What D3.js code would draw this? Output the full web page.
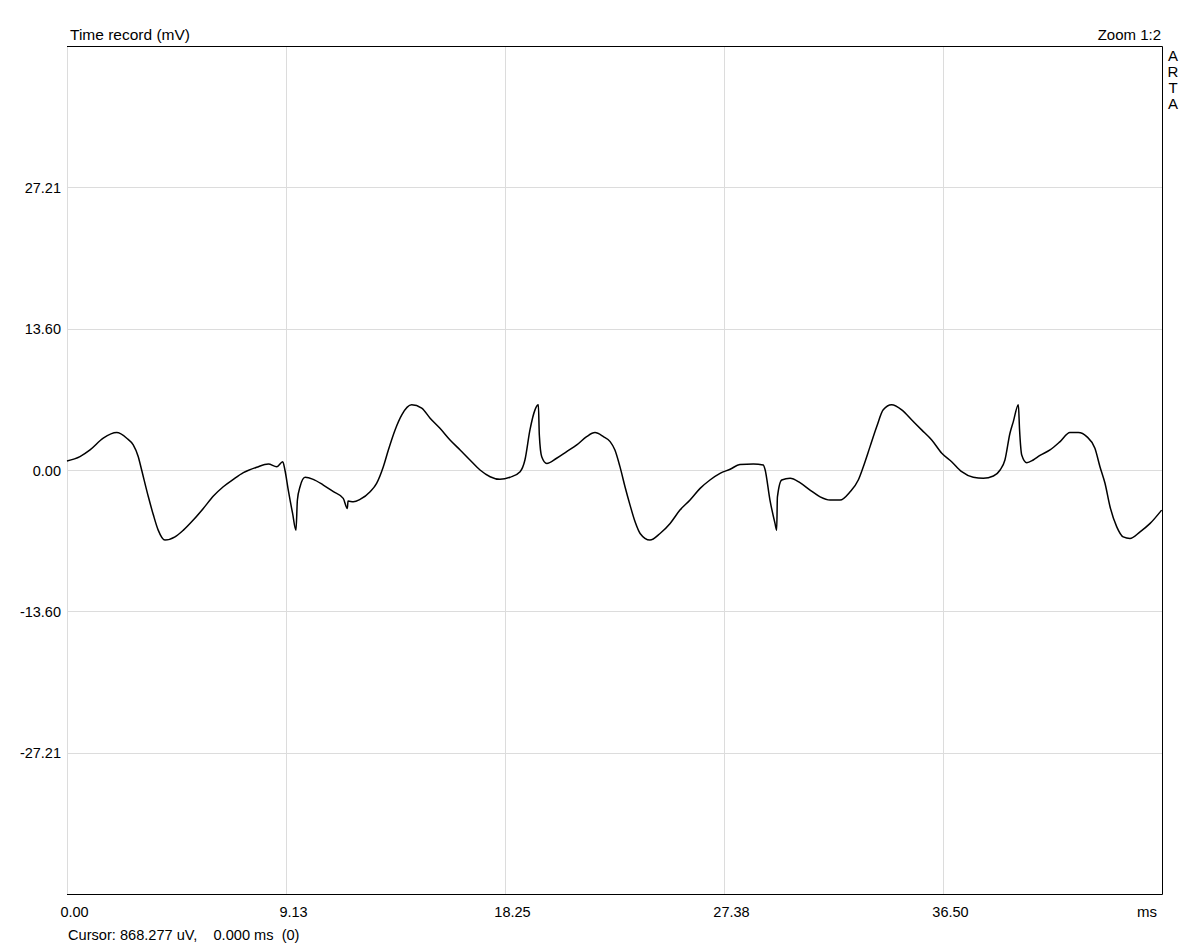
<!DOCTYPE html>
<html><head><meta charset="utf-8">
<script src="https://cdn.jsdelivr.net/npm/d3@7"></script>
<style>
body{margin:0;background:#fff;}
text{font-family:"Liberation Sans",Arial,sans-serif;fill:#000;}
</style></head>
<body>
<svg id="c" width="1186" height="946"></svg>
<script>
const timeMs = [0,0.54,0.96,1.51,2.07,2.49,2.76,2.97,3.11,3.39,3.60,3.80,4.08,4.50,4.85,5.26,5.68,6.10,6.51,6.93,7.35,7.90,8.39,8.74,8.99,9.08,9.22,9.40,9.54,9.60,9.71,9.92,10.26,10.68,11.10,11.51,11.68,11.71,11.93,12.21,12.63,12.90,13.18,13.39,13.67,13.95,14.36,14.78,15.13,15.54,15.96,16.38,16.79,17.21,17.63,18.04,18.46,18.88,19.08,19.29,19.50,19.64,19.68,19.78,19.99,20.40,20.82,21.24,21.65,22.00,22.35,22.63,22.83,23.04,23.25,23.46,23.67,23.88,24.29,24.71,25.13,25.54,25.96,26.38,26.79,27.21,27.63,28.04,28.60,29.01,29.08,29.29,29.50,29.57,29.60,29.78,30.13,30.54,30.96,31.38,31.79,32.21,32.63,32.97,33.18,33.46,33.74,34.01,34.36,34.78,35.20,35.61,36.03,36.45,36.86,37.28,37.76,38.18,38.60,38.88,39.08,39.29,39.43,39.64,39.69,39.78,39.99,40.26,40.54,40.96,41.38,41.79,42.14,42.49,42.83,43.04,43.25,43.46,43.74,44.01,44.29,44.71,45.13,45.61];
const valueMv = [0.87,1.29,1.93,3.06,3.60,3.06,2.41,1.28,0,-2.58,-4.34,-5.79,-6.75,-6.44,-5.79,-4.82,-3.70,-2.51,-1.61,-0.90,-0.26,0.26,0.58,0.32,0.80,0,-1.93,-4.18,-5.79,-2.89,-1.61,-0.70,-0.90,-1.45,-2.09,-2.73,-3.70,-2.99,-3.06,-2.83,-2.09,-1.28,0.32,1.93,3.86,5.31,6.27,5.95,4.99,4.02,2.89,1.93,0.96,0,-0.65,-0.90,-0.70,-0.16,0.96,3.86,5.79,6.27,3.38,1.28,0.63,1.13,1.77,2.41,3.21,3.60,3.21,2.73,1.93,0.32,-1.61,-3.38,-4.99,-6.11,-6.75,-6.11,-5.14,-3.86,-2.89,-1.77,-0.96,-0.32,0.07,0.53,0.58,0.48,0.10,-2.89,-5.14,-5.79,-2.61,-0.96,-0.80,-1.22,-1.93,-2.58,-2.89,-2.89,-2.09,-0.96,0.32,2.25,4.18,5.79,6.27,5.79,4.82,3.86,2.89,1.61,0.80,-0.16,-0.70,-0.80,-0.58,0,0.96,3.54,4.66,6.27,3.86,1.45,0.70,0.96,1.40,1.93,2.73,3.60,3.60,3.21,2.09,0.32,-1.28,-3.54,-5.47,-6.44,-6.59,-5.95,-5.14,-3.86];
const xTicks = [0, 9.125, 18.25, 27.375, 36.5];
const xTickLabels = ["0.00","9.13","18.25","27.38","36.50"];
const yTicks = [27.21, 13.605, 0, -13.605, -27.21];
const yTickLabels = ["27.21","13.60","0.00","-13.60","-27.21"];

const L=67, R=1162, T=46, B=894;
const svg = d3.select("#c");
const x = d3.scaleLinear().domain([0,45.625]).range([L,R]);
const y = d3.scaleLinear().domain([-40.815,40.815]).range([B,T]);
const grid = "#dcdcdc";

const gx = svg.append("g").attr("transform",`translate(0,${B})`)
  .call(d3.axisBottom(x).tickValues(xTicks).tickSize(-(B-T)).tickFormat((d,i)=>xTickLabels[i]));
gx.select(".domain").remove();
gx.selectAll(".tick line").attr("stroke",grid).attr("shape-rendering","crispEdges");
gx.selectAll(".tick text").attr("dy",null).attr("y",23).attr("x",7).attr("font-family",null).attr("fill","#000").style("font-size","14.5px");

const gy = svg.append("g").attr("transform",`translate(${L},0)`)
  .call(d3.axisLeft(y).tickValues(yTicks).tickSize(-(R-L)).tickFormat((d,i)=>yTickLabels[i]));
gy.select(".domain").remove();
gy.selectAll(".tick line").attr("stroke",grid).attr("shape-rendering","crispEdges");
gy.selectAll(".tick text").attr("x",-6).attr("dy","0.35em").attr("font-family",null).attr("fill","#000").style("font-size","14.5px");

svg.append("line").attr("x1",L+0.5).attr("x2",L+0.5).attr("y1",T).attr("y2",B).attr("stroke",grid);
svg.append("path").attr("d",`M${L},${T+0.5}H${R+0.5}V${B+0.5}H${L}`).attr("fill","none").attr("stroke","#000").attr("stroke-width",1);

const pts = timeMs.map((t,i)=>[t,valueMv[i]]);
svg.append("path").datum(pts)
  .attr("d", d3.line().x(d=>x(d[0])).y(d=>y(d[1])).curve(d3.curveMonotoneX))
  .attr("fill","none").attr("stroke","#000").attr("stroke-width",1.5).attr("stroke-linejoin","round");

svg.append("text").attr("x",70).attr("y",40).style("font-size","15.5px").text("Time record (mV)");
svg.append("text").attr("x",1161).attr("y",40).attr("text-anchor","end").style("font-size","15px").text("Zoom 1:2");
["A","R","T","A"].forEach((c,i)=>svg.append("text").attr("x",1173).attr("y",61+i*16).attr("text-anchor","middle").style("font-size","15px").text(c));
svg.append("text").attr("x",1157).attr("y",917).attr("text-anchor","end").style("font-size","15px").text("ms");
svg.append("text").attr("x",68).attr("y",940).style("font-size","14.6px").attr("xml:space","preserve").style("white-space","pre").text("Cursor: 868.277 uV,    0.000 ms  (0)");
</script>
</body></html>
